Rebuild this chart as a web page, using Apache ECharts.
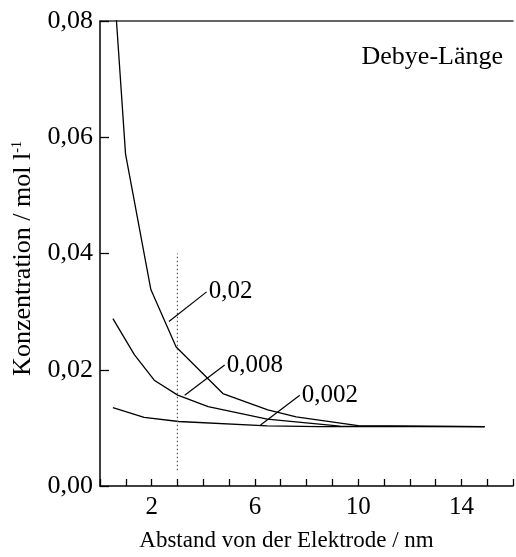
<!DOCTYPE html>
<html>
<head>
<meta charset="utf-8">
<script src="https://cdn.jsdelivr.net/npm/echarts@6/dist/echarts.min.js"></script>
<style>
  html, body { margin: 0; padding: 0; background: #fff; }
  #chart { width: 516px; height: 557px; }
</style>
</head>
<body>
<div id="chart"></div>
<script>
// Concentration profiles in front of an electrode for three bulk concentrations
const FONT = "'Liberation Serif', 'Times New Roman', serif";

const dist020 = [0.5, 0.99, 1.97, 2.95, 4.76, 6.5, 7.6, 10, 14.9];
const conc020 = [0.089, 0.0571, 0.0338, 0.0239, 0.0159, 0.0131, 0.0119, 0.0104, 0.0102];

const dist008 = [0.5, 1.33, 2.1, 3.01, 4.19, 6.48, 9.3, 14.9];
const conc008 = [0.0288, 0.0226, 0.0182, 0.01564, 0.01365, 0.0115, 0.0103, 0.0102];

const dist002 = [0.5, 1.71, 3.05, 6.48, 8.5, 14.9];
const conc002 = [0.0135, 0.0118, 0.0111, 0.01035, 0.0102, 0.0102];

const curveNames = ['0,02', '0,008', '0,002'];
// leader lines: [x0, y0, x1, y1], label sits at the second end
const leaders = [
  [2.67, 0.0283, 4.13, 0.0334],
  [3.28, 0.0156, 4.83, 0.0208],
  [6.22, 0.0105, 7.74, 0.0156]
];

// Debye length marker (dotted vertical)
const debyeX = 3;
const debyeSpan = [0.0027, 0.040];

const xTickLabels = [2, 6, 10, 14];
const yTicks = [0, 0.02, 0.04, 0.06, 0.08];

const pairs = (xs, ys) => xs.map((x, i) => [x, ys[i]]);

const curveStyle = { color: '#000', width: 1.3 };

const series = [
  { type: 'line', data: pairs(dist020, conc020), symbol: 'none', lineStyle: curveStyle, clip: true },
  { type: 'line', data: pairs(dist008, conc008), symbol: 'none', lineStyle: curveStyle, clip: true },
  { type: 'line', data: pairs(dist002, conc002), symbol: 'none', lineStyle: curveStyle, clip: true },
  {
    type: 'line', symbol: 'none', silent: true,
    lineStyle: { color: '#555', width: 1.2, type: [1.5, 2.5] },
    data: [[debyeX, debyeSpan[0]], [debyeX, debyeSpan[1]]]
  }
];

leaders.forEach((l, i) => {
  series.push({
    type: 'line', silent: true,
    lineStyle: { color: '#000', width: 1.2 },
    symbol: 'none',
    data: [
      [l[0], l[1]],
      {
        value: [l[2], l[3]],
        symbol: 'circle', symbolSize: 0.1,
        label: {
          show: true, position: 'right', distance: 2,
          formatter: curveNames[i],
          color: '#000', fontFamily: FONT, fontSize: 25
        }
      }
    ]
  });
});

const chart = echarts.init(document.getElementById('chart'), null, { renderer: 'canvas' });
chart.setOption({
  animation: false,
  backgroundColor: '#fff',
  grid: { left: 100, top: 21, width: 420, height: 469 },
  xAxis: [
    {
      type: 'value', min: 0, max: 16, interval: 1,
      axisLine: { lineStyle: { color: '#000', width: 1.5 } },
      axisTick: { inside: true, length: 7, lineStyle: { color: '#000', width: 1.3 } },
      splitLine: { show: false },
      axisLabel: {
        color: '#000', fontFamily: FONT, fontSize: 25, margin: 9,
        formatter: v => (xTickLabels.includes(v) ? String(v) : '')
      },
      name: 'Abstand von der Elektrode / nm',
      nameLocation: 'middle', nameGap: 43,
      nameTextStyle: { color: '#000', fontFamily: FONT, fontSize: 23, padding: [0, 40, 0, 0] }
    },
    {
      type: 'value', position: 'top', min: 0, max: 16,
      axisLine: { show: true, onZero: false, lineStyle: { color: '#333', width: 1.5 } },
      axisTick: { show: false }, axisLabel: { show: false }, splitLine: { show: false }
    }
  ],
  yAxis: {
    type: 'value', min: 0, max: 0.08, interval: 0.02,
    axisLine: { show: true, lineStyle: { color: '#000', width: 1.5 } },
    axisTick: { show: true, inside: true, length: 9, lineStyle: { color: '#000', width: 1.3 } },
    splitLine: { show: false },
    axisLabel: {
      color: '#000', fontFamily: FONT, fontSize: 26, margin: 7,
      formatter: v => yTicks.some(t => Math.abs(t - v) < 1e-9) ? v.toFixed(2).replace('.', ',') : ''
    },
    name: '{a|Konzentration / mol l}{s|-1}',
    nameLocation: 'middle', nameRotate: 90, nameGap: 60,
    nameTextStyle: {
      color: '#000', fontFamily: FONT, padding: [0, 10, 0, 0],
      rich: {
        a: { fontFamily: FONT, fontSize: 26, color: '#000', verticalAlign: 'bottom' },
        s: { fontFamily: FONT, fontSize: 14, color: '#000', verticalAlign: 'top' }
      }
    }
  },
  graphic: [{
    type: 'text', right: 13, top: 44,
    style: { text: 'Debye-Länge', fontFamily: FONT, fontSize: 26, fill: '#000' }
  }],
  series
});
</script>
</body>
</html>
